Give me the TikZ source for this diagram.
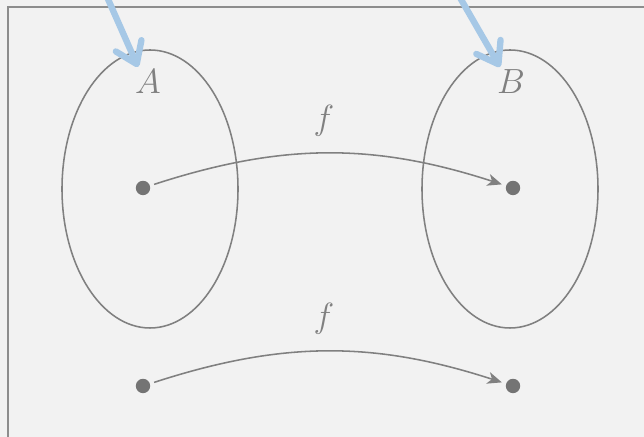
\documentclass[tikz,border=0pt]{standalone}
\usepackage{amsmath,amssymb}
\usetikzlibrary{arrows.meta,shapes.geometric}
\definecolor{bgcol}{HTML}{F2F2F2}
\definecolor{inkcol}{HTML}{808080}
\definecolor{pointcol}{HTML}{747474}
\definecolor{hintcol}{HTML}{A6C8E6}

\begin{document}
\begin{tikzpicture}[every node/.style={font=\fontsize{27}{30}\selectfont, text=inkcol}, >={Stealth[length=3.6mm, width=3mm, inset=1mm]}, setbox/.style={draw=inkcol, line width=1.1pt, ellipse, minimum width=4.4cm, minimum height=6.95cm}, pt/.style={circle, fill=pointcol, inner sep=0pt, minimum size=0.36cm}, maparrow/.style={->, draw=inkcol, line width=1.1pt, shorten <=3pt, shorten >=3pt}, hint/.style={draw=hintcol, line width=4.5pt, -{Straight Barb[length=5mm, width=7mm, round]}}]
	\fill[bgcol] (0,0) rectangle (16.1,10.925);
	\useasboundingbox (0,0) rectangle (16.1,10.925);
	\clip (0,0) rectangle (16.1,10.925);
	\draw[draw=inkcol!90, line width=1.4pt] (0.2,-1) rectangle (17,10.75);
	\node[setbox] (A) at (3.75,6.2) {};
	\node[setbox] (B) at (12.75,6.2) {};
	\node (Alab) at (3.7,8.875) {$A$};
	\node (Blab) at (12.775,8.875) {$B$};
	\node[pt] (a1) at (3.575,6.225) {};
	\node[pt] (b1) at (12.825,6.225) {};
	\node[pt] (a2) at (3.575,1.275) {};
	\node[pt] (b2) at (12.825,1.275) {};
	\draw[maparrow] (a1) to[bend left=18] node[midway, above=0.3cm, xshift=-0.1cm] (f1) {$f$} (b1);
	\draw[maparrow] (a2) to[bend left=18] node[midway, above=0.3cm, xshift=-0.1cm] (f2) {$f$} (b2);
	\coordinate (hA) at (2.5,11.4);
	\coordinate (hB) at (11.26,11.4);
	\coordinate (tA) at (3.45,9.25);
	\coordinate (tB) at (12.5,9.25);
	\draw[hint] (hA) -- (tA);
	\draw[hint] (hB) -- (tB);
\end{tikzpicture}
\end{document}
